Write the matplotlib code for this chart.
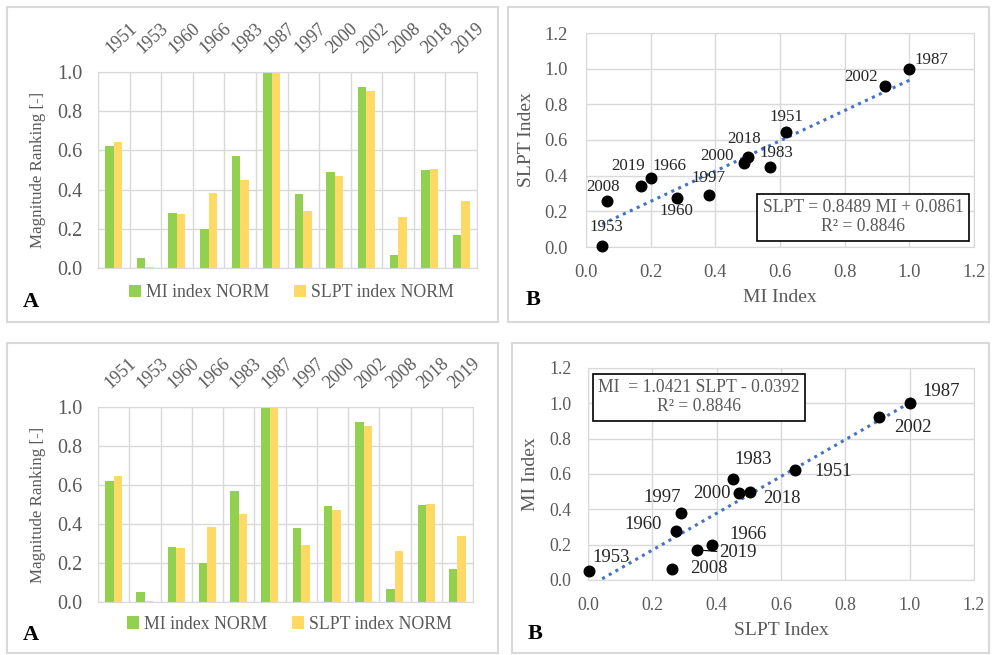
import matplotlib
matplotlib.use("Agg")
import matplotlib.pyplot as plt
from matplotlib.patches import Rectangle
import numpy as np

plt.rcParams['font.family'] = ['Liberation Serif', 'DejaVu Serif']

# data
years = ['1951', '1953', '1960', '1966', '1983', '1987', '1997', '2000', '2002', '2008', '2018', '2019']
mi = [0.62, 0.05, 0.28, 0.20, 0.57, 1.00, 0.38, 0.49, 0.925, 0.065, 0.50, 0.17]
slpt = [0.645, 0.003, 0.275, 0.385, 0.45, 1.00, 0.29, 0.47, 0.905, 0.26, 0.505, 0.34]

fit_top = (0.8489, 0.0861)   # SLPT = a MI + b
fit_bot = (1.0421, -0.0392)  # MI = a SLPT + b
eq_top = "SLPT = 0.8489 MI + 0.0861\nR² = 0.8846"
eq_bot = "MI  = 1.0421 SLPT - 0.0392\nR² = 0.8846"

# label offsets (pixels) for scatter annotations
off_top = {'1951': (0, 15), '1953': (4, 19), '1960': (0, -13), '1966': (19, 12),
           '1983': (6, 14), '1987': (22, 9), '1997': (0, 17), '2000': (-27, 7),
           '2002': (-24, 9), '2008': (-4, 14), '2018': (-4, 18), '2019': (-13, 20)}
off_bot = {'1951': (38, -1), '1953': (22, 14), '1960': (-33, 6), '1966': (36, 10),
           '1983': (20, 20), '1987': (31, 12), '1997': (-19, 15), '2000': (-27, 0),
           '2002': (34, -11), '2008': (37, 0), '2018': (31, -7), '2019': (41, -3)}

GREEN = '#92D050'
YELLOW = '#FFD966'
GRID = '#D9D9D9'
TXT = '#595959'
BLUE = '#4472C4'

fig = plt.figure(figsize=(9.92, 6.55), dpi=100)

# panel frames (pixels)
W, H = 992, 655
for x0, y0, x1, y1 in [(7, 7, 498, 322), (508, 7, 989, 322), (7, 343, 498, 653), (512, 343, 989, 653)]:
    fig.patches.append(Rectangle((x0 / W, 1 - y1 / H), (x1 - x0) / W, (y1 - y0) / H,
                                 transform=fig.transFigure, fill=False, edgecolor=GRID, lw=1.5))


def bar_panel(rect, leg_y, letter_y):
    ax = fig.add_axes(rect)
    x = np.arange(len(years))
    w = 0.27
    ax.bar(x - w / 2, mi, w, color=GREEN, label='MI index NORM')
    ax.bar(x + w / 2, slpt, w, color=YELLOW, label='SLPT index NORM')
    ax.set_xlim(-0.5, len(years) - 0.5)
    ax.set_ylim(0, 1.0)
    ax.set_yticks(np.arange(0, 1.01, 0.2))
    ax.set_yticklabels(['%.1f' % v for v in np.arange(0, 1.01, 0.2)])
    ax.xaxis.tick_top()
    ax.set_xticks(x)
    ax.set_xticklabels(years, rotation=43, ha='left', va='bottom', rotation_mode='anchor')
    ax.set_xticks(np.arange(len(years) + 1) - 0.5, minor=True)
    ax.tick_params(axis='x', which='both', length=0, pad=11, labelsize=13, colors=TXT)
    ax.tick_params(axis='y', length=0, pad=11.5, labelsize=14.5, colors=TXT)
    ax.grid(True, axis='y', color=GRID, lw=1)
    ax.grid(True, axis='x', which='minor', color=GRID, lw=1)
    ax.set_axisbelow(True)
    for s in ax.spines.values():
        s.set_color(GRID)
    ax.set_ylabel('Magnitude Ranking [-]', fontsize=12.2, color=TXT, labelpad=8)
    ax.legend(loc='center', bbox_to_anchor=(0.51, leg_y), ncol=2, frameon=False, fontsize=12.8,
              handlelength=0.7, handleheight=0.7, handletextpad=0.25, columnspacing=1.4,
              labelcolor=TXT)
    fig.text(31 / W, 1 - letter_y / H, 'A', fontsize=16, fontweight='bold', ha='center', va='center')
    return ax


def scatter_panel(rect, xs, ys, fit, eq, offs, box_c, xlabel, ylabel, letter_xy, lab_fs, tick_fs, ypad):
    ax = fig.add_axes(rect)
    ax.set_xlim(0, 1.2)
    ax.set_ylim(0, 1.2)
    ticks = np.arange(0, 1.21, 0.2)
    ax.set_xticks(ticks)
    ax.set_yticks(ticks)
    ax.set_xticklabels(['%.1f' % v for v in ticks])
    ax.set_yticklabels(['%.1f' % v for v in ticks])
    ax.tick_params(length=0, labelsize=tick_fs, colors=TXT)
    ax.tick_params(axis='x', pad=12)
    ax.tick_params(axis='y', pad=ypad)
    ax.grid(True, color=GRID, lw=1)
    ax.set_axisbelow(True)
    for s in ax.spines.values():
        s.set_color(GRID)
    xl = np.array([min(xs), max(xs)])
    ax.plot(xl, fit[0] * xl + fit[1], ls=(0, (1, 1.5)), color=BLUE, lw=2.2, zorder=2)
    ax.scatter(xs, ys, s=58, color='black', zorder=3, clip_on=False)
    for yr, xv, yv in zip(years, xs, ys):
        dx, dy = offs[yr]
        kw = {}
        if yr == '2019' and dx > 30:
            kw = dict(arrowprops=dict(arrowstyle='-', color='black', lw=0.8, shrinkA=0, shrinkB=2))
        ax.annotate(yr, (xv, yv), xytext=(dx, dy), textcoords='offset pixels',
                    ha='center', va='center', fontsize=lab_fs, color='#262626', **kw)
    bw, bh = box_c[2], box_c[3]
    ax.add_patch(Rectangle((box_c[0] - bw / 2, box_c[1] - bh / 2), bw, bh, transform=ax.transAxes,
                           facecolor='white', edgecolor='black', lw=1.2, zorder=4))
    ax.text(box_c[0], box_c[1], eq, transform=ax.transAxes, ha='center', va='center',
            fontsize=12.7, color=TXT, linespacing=1.15, zorder=5)
    ax.set_xlabel(xlabel, fontsize=14, color=TXT, labelpad=6)
    ax.set_ylabel(ylabel, fontsize=14, color=TXT, labelpad=7)
    fig.text(letter_xy[0] / W, 1 - letter_xy[1] / H, 'B', fontsize=16, fontweight='bold',
             ha='center', va='center')
    return ax


bar_panel([98 / W, 1 - 268 / H, 379 / W, 196 / H], -0.125, 302)
bar_panel([98 / W, 1 - 602 / H, 375 / W, 195 / H], -0.113, 635)
scatter_panel([586 / W, 1 - 247 / H, 388 / W, 214 / H], mi, slpt, fit_top, eq_top, off_top,
              (0.714, 0.14, 0.546, 0.22), 'MI Index', 'SLPT Index', (533, 300), 12.2, 13.3, 13)
scatter_panel([588 / W, 1 - 580 / H, 386 / W, 212 / H], slpt, mi, fit_bot, eq_bot, off_bot,
              (0.288, 0.863, 0.549, 0.222), 'SLPT Index', 'MI Index', (535, 634), 13.5, 12.8, 12)

fig.savefig('out.png', dpi=100)
